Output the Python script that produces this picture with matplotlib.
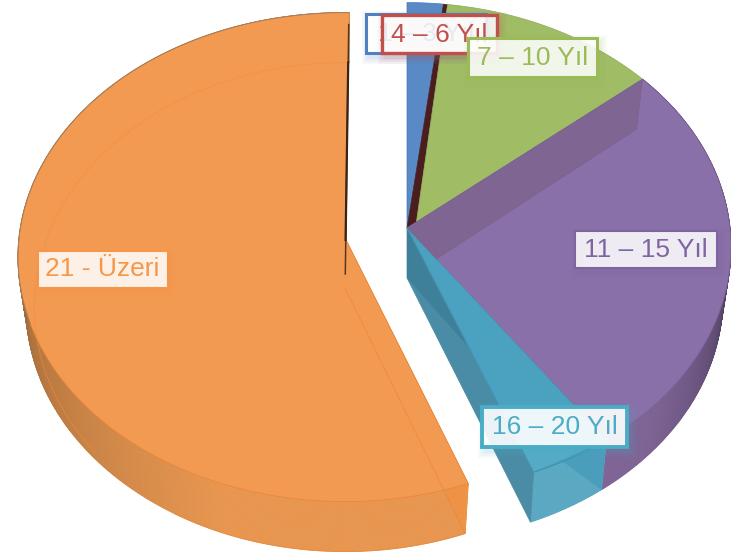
import numpy as np
import matplotlib
matplotlib.use("Agg")
import matplotlib.pyplot as plt
from matplotlib.patches import Polygon, Rectangle

plt.rcParams['font.family'] = ['Liberation Sans', 'DejaVu Sans']

# share of each slice, percent
labels = ['1 – 3 Yıl', '4 – 6 Yıl', '7 – 10 Yıl', '11 – 15 Yıl', '16 – 20 Yıl', '21 - Üzeri']
values = [1.94, 0.22, 11.72, 26.31, 3.89, 55.92]
colors = ['#5A8AC6', '#4A1E1E', '#A0BD66', '#8A70A9', '#4BA1C0', '#F39A52']
text_colors = ['#4F81BD', '#C0504D', '#9BBB59', '#8064A2', '#4BACC6', '#F79646']

# pie geometry, pixels
RY, P = 243.0, 0.078
DEPTH = 50.0
SHRINK = 0.975
main_apex = (407.0, 228.0)
big_apex = (345.0, 238.0)
radius = {main_apex: 323.0, big_apex: 326.0}

fig = plt.figure(figsize=(7.31, 5.54), dpi=100)
ax = fig.add_axes([0, 0, 1, 1])
ax.set_xlim(0, 731)
ax.set_ylim(554, 0)
ax.axis('off')


def rim(apex, deg):
    # perspective view of a flat circle, angle clockwise from the top
    t = np.radians(np.atleast_1d(deg))
    u, v = np.sin(t), -np.cos(t)
    w = 1 - P * v
    return np.column_stack([apex[0] + radius[apex] * u / w, apex[1] + RY * v / w])


def drop(apex, pts, shrink=SHRINK):
    out = np.array(pts, dtype=float)
    out[:, 0] = apex[0] + (out[:, 0] - apex[0]) * shrink
    out[:, 1] = out[:, 1] + DEPTH
    return out


def arc(a, b):
    return np.linspace(a, b, max(int(abs(b - a) * 2), 2))


def mix(c1, c2, f):
    c1, c2 = np.array(matplotlib.colors.to_rgb(c1)), np.array(matplotlib.colors.to_rgb(c2))
    return tuple(c1 + (c2 - c1) * f)


def shaded_wall(apex, a, b, color_at):
    degs = np.linspace(a, b, int(abs(b - a) * 3) + 2)
    top = rim(apex, degs)
    low = drop(apex, top)
    for i in range(len(degs) - 1):
        q = [top[i], top[i + 1], low[i + 1], low[i]]
        c = color_at(degs[i])
        ax.add_patch(Polygon(q, closed=True, fc=c, ec=c, lw=0.6, zorder=1))


def side(apex, deg):
    r = rim(apex, deg)
    return np.vstack([[apex], r, drop(apex, r), drop(apex, [apex])])


edges = np.cumsum([0] + values) * 3.6
blue_end, red_end, green_end, purple_end, cyan_end = edges[1:6]
orange_start, orange_end = cyan_end + 0.8, edges[6] + 0.8


def purple_wall(d):
    f = np.clip((d - 95) / 40.0, 0, 1)
    return mix('#3A2E48', '#7E6495', f ** 0.6)


def orange_wall(d):
    if d > 285:
        return '#8A5A30'
    f = np.clip((285 - d) / 85.0, 0, 1)
    return mix('#7E5530', '#E8964F', f ** 0.8)


# right part of the pie: walls first
shaded_wall(main_apex, green_end, purple_end, purple_wall)
shaded_wall(main_apex, purple_end, cyan_end, lambda d: '#5AA8C2')
front_mid = purple_end + 0.62 * (cyan_end - purple_end)
low_front = drop(main_apex, rim(main_apex, [purple_end]))
ax.add_patch(Polygon(np.vstack([rim(main_apex, [purple_end]), low_front, rim(main_apex, [front_mid])]),
                     closed=True, fc='#4A9DBB', ec='none', zorder=1.6))

# top faces
apex = np.array(main_apex)
tip = apex + 0.04 * (rim(main_apex, green_end)[0] - apex)
pts = np.vstack([[apex], rim(main_apex, arc(0, blue_end))])
ax.add_patch(Polygon(pts, closed=True, fc=colors[0], ec='#4A78B0', lw=0.5, zorder=2))
pts = np.vstack([[apex], rim(main_apex, arc(blue_end, red_end)), [tip]])
ax.add_patch(Polygon(pts, closed=True, fc=colors[1], ec=colors[1], lw=0.4, zorder=2))
pts = np.vstack([[tip], rim(main_apex, arc(red_end, green_end))])
ax.add_patch(Polygon(pts, closed=True, fc=colors[2], ec='#8EA95A', lw=0.5, zorder=2))
pts = np.vstack([[apex], rim(main_apex, arc(green_end, purple_end))])
purple_top = Polygon(pts, closed=True, fc=colors[3], ec='#7C639A', lw=0.6, zorder=2)
ax.add_patch(purple_top)
pts = np.vstack([[apex], rim(main_apex, arc(purple_end, cyan_end))])
cyan_top = Polygon(pts, closed=True, fc=colors[4], ec='#4596B4', lw=0.5, zorder=2.2)
ax.add_patch(cyan_top)

# see-through inner walls
band = Polygon(side(main_apex, green_end), closed=True, fc='#7F6591', ec='#7A6290', lw=0.5, zorder=2.4)
ax.add_patch(band)
band.set_clip_path(purple_top)
# lighter front part of the cyan top
lit_poly = Polygon(np.vstack([rim(main_apex, [cyan_end]), rim(main_apex, [purple_end]),
                              apex + 0.89 * (rim(main_apex, [purple_end])[0] - apex),
                              apex + 0.75 * (rim(main_apex, [cyan_end])[0] - apex),
                              apex + 0.49 * (rim(main_apex, [cyan_end])[0] - apex)]),
                   closed=True, fc='#55ABC6', ec='none', zorder=2.3)
ax.add_patch(lit_poly)
ax.plot(*rim(main_apex, arc(purple_end, cyan_end)).T, color='#3F93B0', lw=0.8, zorder=2.6)

# cyan side wall with its darker upper part
corner = rim(main_apex, [cyan_end])[0]
ax.add_patch(Polygon(side(main_apex, cyan_end), closed=True, fc='#4A8CA5', ec='#4A8CA5', lw=0.5, zorder=2.5))
ax.add_patch(Polygon([apex, apex + 0.49 * (corner - apex), drop(main_apex, [apex])[0]], closed=True,
                     fc='#3E7F9A', ec='none', zorder=2.55))
ax.plot(*np.array([apex, corner]).T, color='#4596B4', lw=0.6, zorder=2.6)

# big slice
shaded_wall(big_apex, orange_start, orange_end, orange_wall)
pts = side(big_apex, orange_start)
ax.add_patch(Polygon(pts, closed=True, fc='#EE9345', ec='#EE9345', lw=0.5, zorder=1.5))
pts = np.vstack([[big_apex], rim(big_apex, arc(orange_start, orange_end))])
ax.add_patch(Polygon(pts, closed=True, fc=colors[5], ec='#E8873A', lw=0.6, zorder=2))
# rim has a thin grey edge on the back side
back_arc = rim(big_apex, arc(250, orange_end))
ax.plot(back_arc[:, 0], back_arc[:, 1], color='#8A7A6A', lw=0.7, alpha=0.7, zorder=2.05)
# faint outline of the bottom face showing through
low = drop(big_apex, rim(big_apex, arc(orange_start, 210)))
low = np.vstack([drop(big_apex, [big_apex]), low])
ax.plot(low[:, 0], low[:, 1], color='#E0802F', lw=0.7, alpha=0.45, zorder=2.1)
low = drop(big_apex, rim(big_apex, arc(230, orange_end)), shrink=0.95)
ax.plot(low[:, 0], low[:, 1], color='#EE8E3E', lw=0.8, alpha=0.5, zorder=2.1)
# dark back edge of the big slice
back = rim(big_apex, [orange_end])[0]
ax.plot([back[0] - 0.5, big_apex[0] + 0.3], [back[1] + 12, big_apex[1] + 36], color='#5A3820', lw=1.1, zorder=2.3)
ax.plot([back[0] - 1.0, big_apex[0] + 0.6], [back[1] + 50, big_apex[1] + 2], color='#3A2415', lw=1.6, zorder=2.3)

# label boxes: x0, y0, x1, y1
boxes = [(366, 14, 486, 53), (382, 15, 497, 53), (468, 38, 597, 77),
         (575, 231, 717, 268), (482, 407, 627, 447), (38, 251, 167, 287)]
border = [2.2, 2.4, 2.2, 1.5, 2.8, 0.8]
box_alpha = [0.93, 0.85, 0.87, 0.87, 0.9, 0.87]
for i, (x0, y0, x1, y1) in enumerate(boxes):
    zz = 4 + i * 0.1
    for k in (7, 5, 3, 1.5):
        ax.add_patch(Rectangle((x0 + 3 - k, y0 + 4 - k), x1 - x0 + 2 * k, y1 - y0 + 2 * k,
                               fc=text_colors[i], ec='none', alpha=0.05, zorder=zz))
    ax.add_patch(Rectangle((x0, y0), x1 - x0, y1 - y0, fc=(1, 1, 1, box_alpha[i]),
                           ec=text_colors[i], lw=border[i], zorder=zz + 0.01))
    ax.text((x0 + x1) / 2, (y0 + y1) / 2 + 0.5, labels[i], color=text_colors[i], fontsize=19,
            ha='center', va='center', zorder=zz + 0.02)

fig.savefig('out.png', dpi=100)
